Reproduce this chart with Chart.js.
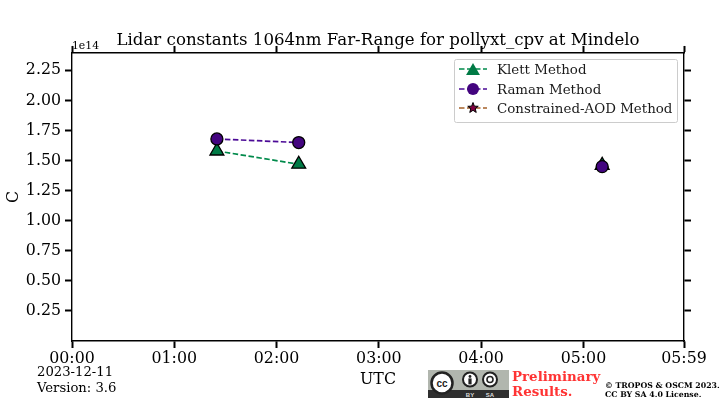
<!DOCTYPE html>
<html>
<head>
<meta charset="utf-8">
<title>Lidar constants</title>
<script src="https://cdn.jsdelivr.net/npm/chart.js@4/dist/chart.umd.js"></script>
<style>
  body { margin: 0; background: #fff; font-family: "DejaVu Serif", serif; color: #000; overflow: hidden; }
  #wrap { position: relative; width: 720px; height: 400px; }
  .note { position: absolute; white-space: nowrap; }
</style>
</head>
<body>
<div id="wrap">
  <canvas id="lidar-chart" width="720" height="400"></canvas>
  <div class="note" style="left:72px;top:39px;font-size:10.8px;line-height:13px;">1e14</div>
  <div class="note" style="left:37px;top:364px;font-size:13.2px;line-height:16px;">2023-12-11</div>
  <div class="note" style="left:37px;top:380px;font-size:13.2px;line-height:16px;">Version: 3.6</div>
  <svg class="note" style="left:428px;top:370px;" width="81" height="28" viewBox="0 0 81 28">
    <rect width="81" height="28" fill="#b1b6ae"/>
    <rect y="20" width="81" height="8" fill="#2f2f2f"/>
    <circle cx="14" cy="13" r="10.5" fill="#fff" stroke="#222" stroke-width="2.5"/>
    <text x="14" y="16.5" text-anchor="middle" font-family="Liberation Sans" font-weight="bold" font-size="10" fill="#222">cc</text>
    <circle cx="42" cy="9.5" r="7" fill="#fff" stroke="#222" stroke-width="2"/>
    <circle cx="42" cy="6.5" r="1.4" fill="#222"/>
    <rect x="40.4" y="8.4" width="3.2" height="6" fill="#222"/>
    <circle cx="62" cy="9.5" r="7" fill="#fff" stroke="#222" stroke-width="2"/>
    <circle cx="62" cy="9.5" r="3" fill="none" stroke="#222" stroke-width="1.6"/>
    <text x="42" y="26.5" text-anchor="middle" font-family="Liberation Sans" font-weight="bold" font-size="6" fill="#ddd">BY</text>
    <text x="62" y="26.5" text-anchor="middle" font-family="Liberation Sans" font-weight="bold" font-size="6" fill="#ddd">SA</text>
  </svg>
  <div class="note" style="left:512px;top:368.5px;font-size:13.4px;line-height:15px;font-weight:bold;color:#ff3333;">Preliminary<br>Results.</div>
  <div class="note" style="left:605px;top:380.5px;font-size:7.8px;line-height:9.5px;font-weight:bold;">© TROPOS &amp; OSCM 2023.<br>CC BY SA 4.0 License.</div>
</div>
<script>
  // minutes after midnight, null breaks the line between the two measurement groups
  var times = [85, 133, 200, 311];
  var klettValues = [1.58e14, 1.47e14, null, 1.46e14];
  var ramanValues = [1.68e14, 1.65e14, null, 1.45e14];
  var constrainedValues = [null, null, null, null];

  var xTickValues = [0, 60, 120, 180, 240, 300, 359];
  var xTickLabels = ['00:00', '01:00', '02:00', '03:00', '04:00', '05:00', '05:59'];
  var yTickValues = [0.25e14, 0.5e14, 0.75e14, 1e14, 1.25e14, 1.5e14, 1.75e14, 2e14, 2.25e14];

  // lower order is drawn on top, so Raman covers Klett
  function series(label, values, lineColor, fill, style, radius, order) {
    return {
      label: label,
      data: values,
      order: order,
      borderColor: lineColor,
      borderWidth: 1.7,
      borderDash: [5.5, 2.5],
      spanGaps: false,
      tension: 0,
      pointStyle: style,
      pointRadius: radius,
      pointBackgroundColor: fill,
      pointBorderColor: '#000',
      pointBorderWidth: 1.3
    };
  }

  function setTicks(values) {
    return function(scale) {
      scale.ticks = values.map(function(v) { return { value: v }; });
    };
  }

  function fixSize(prop, size) {
    return function(scale) { scale[prop] = size; };
  }

  function drawStar(ctx, x, y, r) {
    ctx.beginPath();
    for (var i = 0; i < 10; i++) {
      var rad = i % 2 ? r * 0.42 : r;
      var a = -Math.PI / 2 + i * Math.PI / 5;
      ctx.lineTo(x + rad * Math.cos(a), y + rad * Math.sin(a));
    }
    ctx.closePath();
    ctx.fill();
    ctx.stroke();
  }

  // the legend sits inside the plot, with a dashed line through each marker
  var innerLegend = {
    id: 'innerLegend',
    afterDraw: function(chart) {
      var ctx = chart.ctx;
      var rows = [69, 89, 108];
      ctx.save();
      ctx.beginPath();
      ctx.roundRect(454.5, 59.5, 223, 63, 2);
      ctx.fillStyle = 'rgba(255,255,255,0.9)';
      ctx.fill();
      ctx.strokeStyle = '#cccccc';
      ctx.lineWidth = 1;
      ctx.stroke();
      chart.data.datasets.forEach(function(ds, i) {
        ctx.beginPath();
        ctx.setLineDash(ds.borderDash);
        ctx.strokeStyle = ds.borderColor;
        ctx.lineWidth = ds.borderWidth;
        ctx.moveTo(459, rows[i]);
        ctx.lineTo(487, rows[i]);
        ctx.stroke();
        ctx.setLineDash([]);
        ctx.fillStyle = ds.pointBackgroundColor;
        ctx.strokeStyle = ds.pointBorderColor;
        ctx.lineWidth = ds.pointBorderWidth;
        if (ds.pointStyle === 'star') {
          ctx.lineWidth = 1;
          drawStar(ctx, 473, rows[i], ds.pointRadius);
        } else {
          Chart.helpers.drawPoint(ctx, { pointStyle: ds.pointStyle, radius: ds.pointRadius, rotation: 0 }, 473, rows[i] + (ds.pointStyle === 'triangle' ? 2 : 0));
        }
        ctx.fillStyle = '#1a1a1a';
        ctx.font = '13.4px "DejaVu Serif"';
        ctx.textBaseline = 'middle';
        ctx.fillText(ds.label, 497, rows[i] + 1.5);
      });
      ctx.restore();
    }
  };

  var tickFont = { family: 'DejaVu Serif', size: 15.8 };
  var markGrid = { drawOnChartArea: false, color: '#000', tickColor: '#000', tickWidth: 2, tickLength: 7 };
  var markBorder = { color: '#000', width: 1.4 };

  new Chart(document.getElementById('lidar-chart').getContext('2d'), {
    type: 'line',
    data: {
      labels: times,
      datasets: [
        series('Klett Method', klettValues, '#008a4b', '#007a45', 'triangle', 8, 2),
        series('Raman Method', ramanValues, '#4b0a96', '#43047f', 'circle', 6, 1),
        series('Constrained-AOD Method', constrainedValues, '#a5622a', '#800040', 'star', 5.5, 0)
      ]
    },
    options: {
      responsive: false,
      animation: false,
      devicePixelRatio: 1,
      plugins: {
        legend: { display: false },
        tooltip: { enabled: false },
        title: {
          display: true,
          fullSize: false,
          text: 'Lidar constants 1064nm Far-Range for pollyxt_cpv at Mindelo',
          color: '#000',
          font: { family: 'DejaVu Serif', size: 16.63, weight: 'normal' },
          padding: { top: 31, bottom: 2 }
        }
      },
      scales: {
        x: {
          type: 'linear',
          position: 'bottom',
          min: 0,
          max: 359,
          grid: markGrid,
          border: markBorder,
          afterBuildTicks: setTicks(xTickValues),
          afterFit: fixSize('height', 59),
          ticks: {
            autoSkip: false,
            maxRotation: 0,
            color: '#000',
            font: tickFont,
            padding: 1,
            callback: function(v, i) { return xTickLabels[i]; }
          },
          title: { display: true, text: 'UTC', color: '#000', font: tickFont, padding: { top: 0, bottom: 11 } }
        },
        top: {
          type: 'linear',
          position: 'top',
          min: 0,
          max: 359,
          grid: markGrid,
          border: markBorder,
          afterBuildTicks: setTicks(xTickValues),
          afterFit: fixSize('height', 0),
          ticks: { display: false }
        },
        y: {
          position: 'left',
          min: 0,
          max: 2.395e14,
          grid: markGrid,
          border: markBorder,
          afterBuildTicks: setTicks(yTickValues),
          afterFit: fixSize('width', 72),
          ticks: {
            autoSkip: false,
            color: '#000',
            font: tickFont,
            padding: 4,
            callback: function(v) { return (v / 1e14).toFixed(2); }
          },
          title: { display: true, text: 'C', color: '#000', font: tickFont, padding: { top: 4, bottom: 0 } }
        },
        right: {
          position: 'right',
          min: 0,
          max: 2.395e14,
          grid: markGrid,
          border: markBorder,
          afterBuildTicks: setTicks(yTickValues),
          afterFit: fixSize('width', 36),
          ticks: { display: false }
        }
      }
    },
    plugins: [innerLegend]
  });
</script>
</body>
</html>
